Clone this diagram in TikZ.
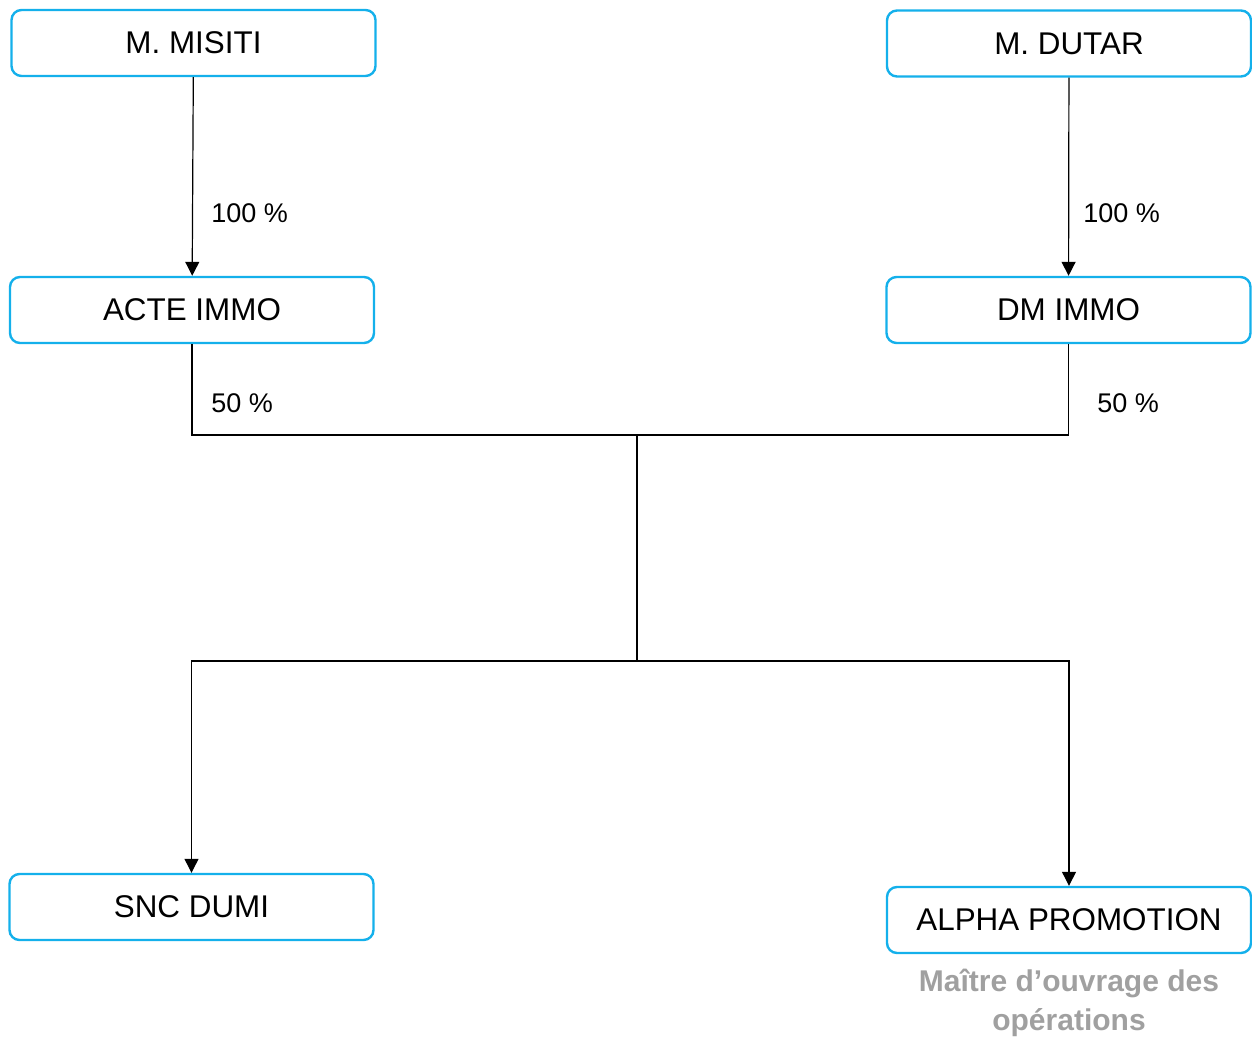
\documentclass[tikz,border=0pt]{standalone}
\usepackage{fontspec}
\setmainfont{Liberation Sans}
\usetikzlibrary{arrows.meta}
\definecolor{boxblue}{RGB}{20,176,235}
\definecolor{capgray}{RGB}{160,160,160}
\tikzset{
  entity/.style={draw=boxblue, line width=1.2pt, rounded corners=5pt, fill=white,
    minimum width=182pt, minimum height=33pt, inner sep=0pt, font=\fontsize{15.7}{18}\selectfont},
  share/.style={anchor=west, inner sep=0pt, font=\fontsize{13.5}{16}\selectfont},
  link/.style={line width=0.6pt},
  arrowlink/.style={link, -{Triangle[length=7pt, width=7pt]}}
}
\begin{document}
\begin{tikzpicture}[x=0.5pt, y=-0.5pt]
\useasboundingbox (0,0) rectangle (1252,1037);
\node [entity] (misiti) at (193.5,43) {M. MISITI};
\node [entity] (dutar) at (1069,43.5) {M. DUTAR};
\node [entity] (acte) at (192,310) {ACTE IMMO};
\node [entity] (dm) at (1068.5,310) {DM IMMO};
\node [entity] (snc) at (191.5,907) {SNC DUMI};
\node [entity] (alpha) at (1069,920) {ALPHA PROMOTION};
\node [align=center, text=capgray, inner sep=0pt, font=\bfseries\fontsize{15}{19.5}\selectfont] (role) at (1069,1003) {Maître d’ouvrage des\\opérations};
\node [share] (p1) at (211,213) {100 \%};
\node [share] (p2) at (1083,213) {100 \%};
\node [share] (p3) at (211,403) {50 \%};
\node [share] (p4) at (1097,403) {50 \%};
\coordinate (top) at (637,435);
\coordinate (bottom) at (637,661);
\draw [arrowlink] (misiti) -- (acte);
\draw [arrowlink] (dutar) -- (dm);
\draw [link] (acte.south) |- (top) -| (dm.south);
\draw [link] (top) -- (bottom);
\draw [arrowlink] (bottom) -| (snc.north);
\draw [arrowlink] (bottom) -| (alpha.north);
\end{tikzpicture}
\end{document}
